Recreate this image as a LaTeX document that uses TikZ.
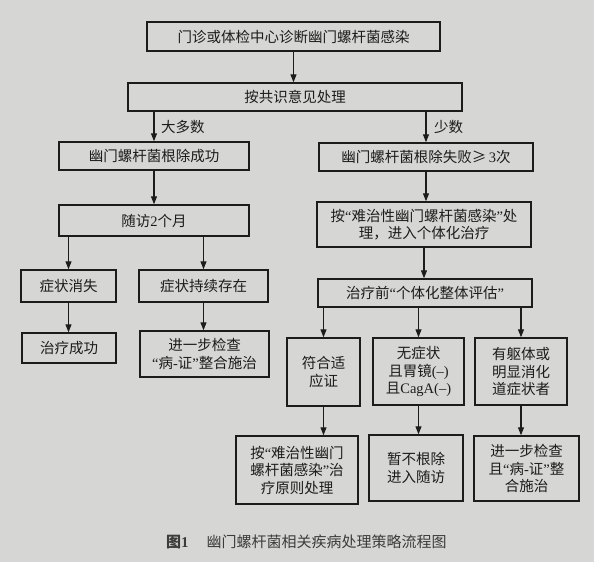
\documentclass[tikz,border=0pt]{standalone}
\usepackage{fontspec}
\setmainfont{Noto Sans CJK SC}
\newfontfamily\lat{Liberation Serif}
\newcommand{\qL}{{\lat “}}
\newcommand{\qR}{{\lat ”}}
\usetikzlibrary{arrows.meta}
\definecolor{bg}{RGB}{214,214,212}
\definecolor{ink}{RGB}{28,28,28}
\definecolor{capc}{RGB}{60,60,60}
\begin{document}
\begin{tikzpicture}[x=1pt,y=-1pt,
  box/.style={draw=ink, line width=1.5pt, inner sep=0pt, align=center,
    font=\fontsize{14.5}{17.5}\selectfont, text=ink},
  sz/.style 2 args={minimum width=#1pt, minimum height=#2pt},
  lbl/.style={font=\fontsize{14.5}{17.5}\selectfont, text=ink, inner sep=0pt},
  arr/.style={draw=ink, line width=1.1pt, -{Triangle[length=8pt,width=6pt]}}]
\fill[bg] (0,0) rectangle (594,562);
\useasboundingbox (0,0) rectangle (594,562);

\node[box, sz={293}{29}] (b1) at (293.5,36.5) {门诊或体检中心诊断幽门螺杆菌感染};
\node[box, sz={334}{28}] (b2) at (295,97) {按共识意见处理};
\node[box, sz={190}{28}] (b3L) at (154,156) {幽门螺杆菌根除成功};
\node[box, sz={214}{28}] (b3R) at (426,157) {幽门螺杆菌根除失败≥{\lat\,3}次};
\node[box, sz={190}{31}] (b4L) at (154,220.5) {随访{\lat 2}个月};
\node[box, sz={214}{45}] (b4R) at (424,224.5) {按\qL 难治性幽门螺杆菌感染\qR 处\\理，进入个体化治疗};
\node[box, sz={95}{32}] (b5a) at (68.5,286) {症状消失};
\node[box, sz={129}{32}] (b5b) at (203.5,286) {症状持续存在};
\node[box, sz={94}{30}] (b6a) at (69,348) {治疗成功};
\node[box, sz={129}{46}] (b6b) at (204.5,354) {进一步检查\\\qL 病{\lat -}证\qR 整合施治};
\node[box, sz={214}{28}] (b5R) at (425,293) {治疗前\qL 个体化整体评估\qR};
\node[box, sz={73}{68}] (c1) at (323.5,372) {符合适\\应证};
\node[box, sz={91}{67}] (c2) at (418.5,371.5) {无症状\\且胃镜{\lat (–)}\\且{\lat CagA(–)}};
\node[box, sz={92}{67}] (c3) at (521,371.5) {有躯体或\\明显消化\\道症状者};
\node[box, sz={122}{68}] (d1) at (297,470) {按\qL 难治性幽门\\螺杆菌感染\qR 治\\疗原则处理};
\node[box, sz={94}{66}] (d2) at (416,468) {暂不根除\\进入随访};
\node[box, sz={105}{65}] (d3) at (526.5,468.5) {进一步检查\\且\qL 病{\lat -}证\qR 整\\合施治};

\node[lbl, anchor=west] (l1) at (161,127) {大多数};
\node[lbl, anchor=west] (l2) at (434,127) {少数};

\node[anchor=west, inner sep=0pt, text=capc, font=\fontsize{15}{18}\selectfont] (cap) at (166,542)
  {{\bfseries 图{\lat 1}}\hspace{18pt}幽门螺杆菌相关疾病处理策略流程图};

\draw[arr] (b1.south) -- (b1.south |- b2.north);
\draw[arr] (b3L.north |- b2.south) -- (b3L.north);
\draw[arr] (b3R.north |- b2.south) -- (b3R.north);
\draw[arr] (b3L.south) -- (b3L.south |- b4L.north);
\draw[arr] (b3R.south) -- (b3R.south |- b4R.north);
\draw[arr] (b4R.south) -- (b4R.south |- b5R.north);
\draw[arr] (b5a.north |- b4L.south) -- (b5a.north);
\draw[arr] (b5b.north |- b4L.south) -- (b5b.north);
\draw[arr] (b5a.south) -- (b5a.south |- b6a.north);
\draw[arr] (b5b.south) -- (b5b.south |- b6b.north);
\draw[arr] (c1.north |- b5R.south) -- (c1.north);
\draw[arr] (c2.north |- b5R.south) -- (c2.north);
\draw[arr] (c3.north |- b5R.south) -- (c3.north);
\draw[arr] (c1.south) -- (c1.south |- d1.north);
\draw[arr] (c2.south) -- (c2.south |- d2.north);
\draw[arr] (c3.south) -- (c3.south |- d3.north);
\end{tikzpicture}
\end{document}
